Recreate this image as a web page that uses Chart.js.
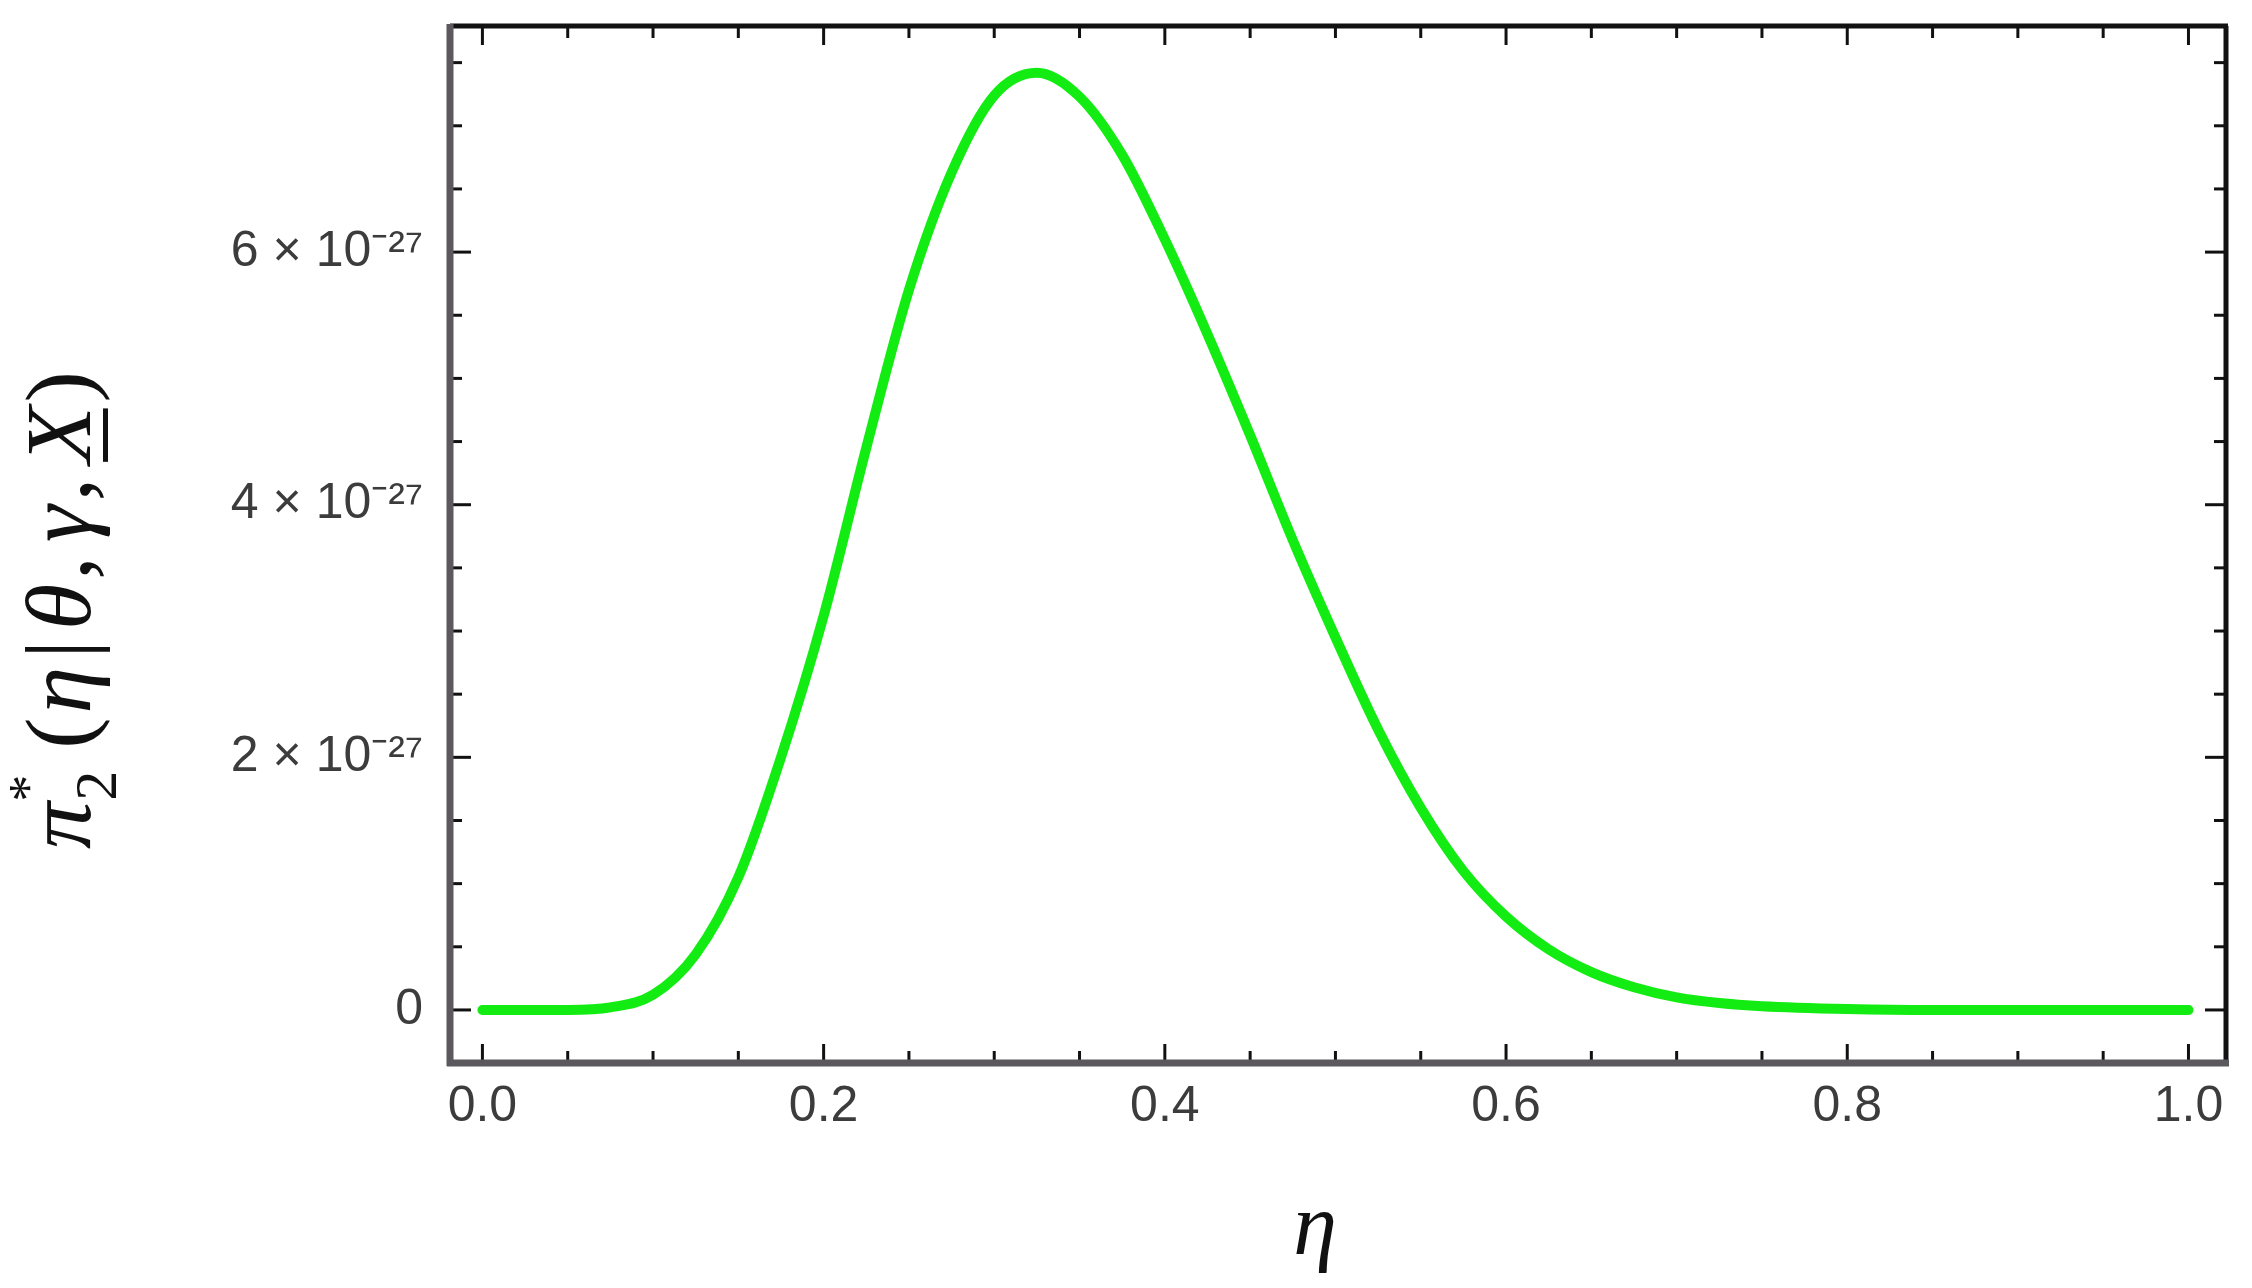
<!DOCTYPE html>
<html>
<head>
<meta charset="utf-8">
<script src="https://cdn.jsdelivr.net/npm/chart.js@4.4.0/dist/chart.umd.min.js"></script>
<style>
  html, body { margin: 0; padding: 0; background: #fff; }
  #wrap { width: 2252px; height: 1288px; }
</style>
</head>
<body>
<div id="wrap">
  <canvas id="density" width="2252" height="1288" aria-label="posterior density of eta" role="img"></canvas>
</div>
<script>
// eta grid and density (density in units of 1e-27)
var etaValues = [0.0, 0.025, 0.05, 0.075, 0.1, 0.125, 0.15, 0.175, 0.2, 0.225,
  0.25, 0.275, 0.3, 0.325, 0.35, 0.375, 0.4, 0.425, 0.45, 0.475,
  0.5, 0.525, 0.55, 0.575, 0.6, 0.625, 0.65, 0.675, 0.7, 0.725,
  0.75, 0.8, 0.85, 0.9, 0.95, 1.0];
var densityValues = [0, 0, 0, 0.02, 0.12, 0.44, 1.05, 2.0, 3.12, 4.45,
  5.7, 6.63, 7.24, 7.42, 7.23, 6.77, 6.1, 5.35, 4.55, 3.72,
  2.95, 2.22, 1.6, 1.1, 0.74, 0.48, 0.3, 0.18, 0.1, 0.055,
  0.03, 0.008, 0, 0, 0, 0];

var xMajorTicks = [0.0, 0.2, 0.4, 0.6, 0.8, 1.0];
var xMinorTicks = [0.05, 0.1, 0.15, 0.25, 0.3, 0.35, 0.45, 0.5, 0.55,
  0.65, 0.7, 0.75, 0.85, 0.9, 0.95];
var yMajorTicks = [0, 2, 4, 6];
var yMinorTicks = [0.5, 1, 1.5, 2.5, 3, 3.5, 4.5, 5, 5.5, 6.5, 7, 7.5];
var yExponent = "⁻²⁷";

var xTitle = "η";
// y title pieces: text, font, baseline shift, gap after
var yTitleParts = [
  ["π", "italic 94px 'Liberation Serif'", 0, 0],
  ["*", "54px 'Liberation Serif'", -44, -26],
  ["2", "60px 'Liberation Serif'", 26, 22],
  ["(", "94px 'Liberation Serif'", 0, 4],
  ["η", "italic 94px 'Liberation Serif'", 0, 8],
  ["|", "94px 'Liberation Serif'", 0, 10],
  ["θ", "italic 94px 'Liberation Serif'", 0, 4],
  [",", "94px 'Liberation Serif'", 0, 14],
  ["γ", "italic 94px 'Liberation Serif'", 0, 4],
  [",", "94px 'Liberation Serif'", 0, 14],
  ["X", "italic 94px 'Liberation Serif'", 0, 4],
  [")", "94px 'Liberation Serif'", 0, 0]
];

// frame with inward ticks on all four sides
var frameTicks = {
  id: "frameTicks",
  afterDraw: function (chart) {
    var c = chart.ctx;
    var a = chart.chartArea;
    var xs = chart.scales.x;
    var ys = chart.scales.y;
    c.save();
    c.strokeStyle = "#111";
    c.lineWidth = 3;
    function tick(x1, y1, x2, y2) {
      c.beginPath();
      c.moveTo(x1, y1);
      c.lineTo(x2, y2);
      c.stroke();
    }
    xMajorTicks.forEach(function (v) {
      var px = xs.getPixelForValue(v);
      tick(px, a.bottom, px, a.bottom - 19);
      tick(px, a.top, px, a.top + 19);
    });
    xMinorTicks.forEach(function (v) {
      var px = xs.getPixelForValue(v);
      tick(px, a.bottom, px, a.bottom - 12);
      tick(px, a.top, px, a.top + 12);
    });
    yMajorTicks.forEach(function (v) {
      var py = ys.getPixelForValue(v);
      tick(a.left, py, a.left + 21, py);
      tick(a.right, py, a.right - 21, py);
    });
    yMinorTicks.forEach(function (v) {
      var py = ys.getPixelForValue(v);
      tick(a.left, py, a.left + 12, py);
      tick(a.right, py, a.right - 12, py);
    });
    // top and right edges dark, left and bottom grey and thicker
    c.lineWidth = 5;
    c.strokeStyle = "#111";
    tick(a.left, a.top, a.right + 2, a.top);
    tick(a.right, a.top, a.right, a.bottom);
    c.lineWidth = 7;
    c.strokeStyle = "#5b585e";
    tick(a.left, a.top - 2, a.left, a.bottom + 3);
    tick(a.left - 3, a.bottom, a.right + 3, a.bottom);
    c.restore();
  }
};

// axis titles with math layout
var axisTitles = {
  id: "axisTitles",
  afterDraw: function (chart) {
    var c = chart.ctx;
    c.save();
    c.fillStyle = "#111";
    c.textBaseline = "alphabetic";
    c.textAlign = "center";
    c.font = "italic 88px 'Liberation Serif'";
    c.fillText(xTitle, 1315, 1254);

    // measure the whole y title first so it can be centred
    var total = 0;
    yTitleParts.forEach(function (p) {
      c.font = p[1];
      total += c.measureText(p[0]).width + p[3];
    });
    c.translate(90, 610 + total / 2);
    c.rotate(-Math.PI / 2);
    c.textAlign = "left";
    var pos = 0;
    yTitleParts.forEach(function (p) {
      c.font = p[1];
      var w = c.measureText(p[0]).width;
      c.fillText(p[0], pos, p[2]);
      if (p[0] === "X") {
        c.fillRect(pos + 2, 13, w - 4, 5);
      }
      pos += w + p[3];
    });
    c.restore();
  }
};

var ctx = document.getElementById("density").getContext("2d");
var myChart = new Chart(ctx, {
  type: "line",
  data: {
    datasets: [
      {
        label: "density",
        data: etaValues.map(function (eta, i) {
          return { x: eta, y: densityValues[i] };
        }),
        borderColor: "rgb(18, 236, 18)",
        borderWidth: 10,
        pointRadius: 0,
        fill: false,
        cubicInterpolationMode: "monotone",
        borderCapStyle: "round"
      }
    ]
  },
  options: {
    responsive: false,
    animation: false,
    devicePixelRatio: 1,
    layout: { padding: { left: 0, right: 26, top: 26, bottom: 0 } },
    plugins: {
      legend: { display: false },
      tooltip: { enabled: false }
    },
    scales: {
      x: {
        type: "linear",
        min: -0.019,
        max: 1.022,
        afterFit: function (s) {
          s.height = 225;
          s.paddingLeft = 0;
          s.paddingRight = 0;
        },
        afterBuildTicks: function (s) {
          s.ticks = xMajorTicks.map(function (v) { return { value: v }; });
        },
        grid: { display: false, drawTicks: false },
        border: { display: false },
        ticks: {
          padding: 14,
          color: "#3c3c3c",
          autoSkip: false,
          maxRotation: 0,
          font: { family: "'Liberation Sans', Arial, sans-serif", size: 50 },
          callback: function (v) { return Number(v).toFixed(1); }
        }
      },
      y: {
        type: "linear",
        min: -0.42,
        max: 7.79,
        afterFit: function (s) {
          s.width = 450;
          s.paddingTop = 0;
          s.paddingBottom = 0;
        },
        afterBuildTicks: function (s) {
          s.ticks = yMajorTicks.map(function (v) { return { value: v }; });
        },
        grid: { display: false, drawTicks: false },
        border: { display: false },
        ticks: {
          padding: 27,
          color: "#3c3c3c",
          autoSkip: false,
          font: { family: "'Liberation Sans', Arial, sans-serif", size: 50 },
          callback: function (v) {
            return v === 0 ? "0" : v + " × 10" + yExponent;
          }
        }
      }
    }
  },
  plugins: [frameTicks, axisTitles]
});
</script>
</body>
</html>
